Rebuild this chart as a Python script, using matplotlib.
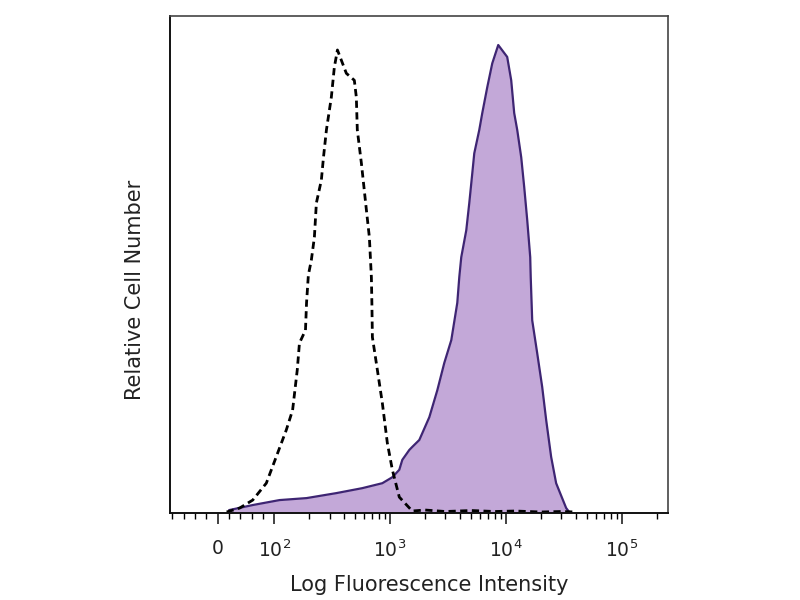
import numpy as np
import matplotlib
matplotlib.use("Agg")
import matplotlib.pyplot as plt

# isotype control (dashed), fluorescence vs relative count
iso_x = [16, 39, 62, 86, 104, 127, 144, 158, 165, 186, 190, 197, 209, 222, 231,
         255, 266, 282, 311, 330, 351, 419, 491, 511, 521, 565, 624, 662, 689,
         696, 703, 776, 857, 946, 1045, 1200, 1552, 2000, 3000, 5000, 8000,
         12000, 20000, 30000, 40000]
iso_y = [0.2, 1.0, 2.6, 6.0, 11.3, 16.7, 20.7, 28.8, 34.2, 36.8, 42.3, 47.9,
         50.9, 55.5, 62.4, 67.0, 71.6, 77.1, 83.7, 89.7, 93.2, 88.5, 87.1, 83.7,
         77.1, 70.4, 61.0, 55.5, 47.5, 42.3, 35.4, 28.8, 22.1, 14.1, 8.7, 3.2,
         0.4, 0.6, 0.3, 0.5, 0.3, 0.4, 0.2, 0.3, 0.2]

# stained sample (filled)
stain_x = [21, 62, 111, 190, 343, 575, 857, 1045, 1200, 1274, 1465, 1552, 1786,
           2180, 2553, 2933, 3372, 3798, 3953, 4111, 4540, 4821, 5118, 5323,
           5879, 6240, 6890, 7608, 8570, 10240, 11090, 11770, 12500, 13530,
           14360, 15240, 16180, 16340, 16830, 18580, 20520, 22220, 24520, 27080,
           33040, 35060]
stain_y = [0.6, 1.6, 2.6, 3.0, 4.0, 5.0, 6.0, 7.2, 8.7, 10.7, 12.7, 13.3, 14.7,
           19.3, 24.7, 30.2, 34.8, 42.3, 47.5, 51.5, 56.9, 62.4, 68.4, 72.4,
           77.1, 80.5, 85.7, 90.5, 94.2, 91.8, 87.1, 80.5, 77.1, 71.6, 65.6,
           59.0, 51.5, 47.5, 38.8, 32.2, 25.4, 18.7, 11.3, 6.0, 1.0, 0.2]

major_ticks = [0, 100, 1000, 10000, 100000]
major_labels = ["0", "$10^2$", "$10^3$", "$10^4$", "$10^5$"]

fig = plt.figure(figsize=(8, 6), dpi=100)
ax = fig.add_axes([0.2125, 0.145, 0.6225, 0.828])

ax.fill_between(stain_x, stain_y, 0, color="#c3a8d8", linewidth=0)
ax.plot(stain_x, stain_y, color="#3e2573", linewidth=1.6)
ax.plot(iso_x, iso_y, color="black", linewidth=2.0, linestyle=(0, (2.6, 1.6)))

ax.set_xscale("symlog", linthresh=100, linscale=0.44)
ax.set_xlim(-84, 250000)
ax.set_ylim(0, 100)

minor = [-80, -60, -40, -20, 20, 40, 60, 80]
for d in (100, 1000, 10000):
    minor += [k * d for k in range(2, 10)]
minor.append(200000)
ax.set_xticks(major_ticks)
ax.set_xticklabels(major_labels)
ax.set_xticks(minor, minor=True)
ax.set_yticks([])

ax.tick_params(axis="x", which="major", length=8, width=1.2, direction="out",
               labelsize=13.5, pad=11, colors="#222222")
ax.tick_params(axis="x", which="minor", length=4, width=1.0, direction="out")

for side in ("top", "right"):
    ax.spines[side].set_color("#444444")
    ax.spines[side].set_linewidth(1.2)
for side in ("bottom", "left"):
    ax.spines[side].set_color("#111111")
    ax.spines[side].set_linewidth(1.4)

ax.set_xlabel("Log Fluorescence Intensity", fontsize=15, color="#222222")
ax.xaxis.set_label_coords(0.52, -0.125)
ax.set_ylabel("Relative Cell Number", fontsize=15, color="#222222")
ax.yaxis.set_label_coords(-0.05, 0.45)

fig.savefig("out.png", dpi=100)
